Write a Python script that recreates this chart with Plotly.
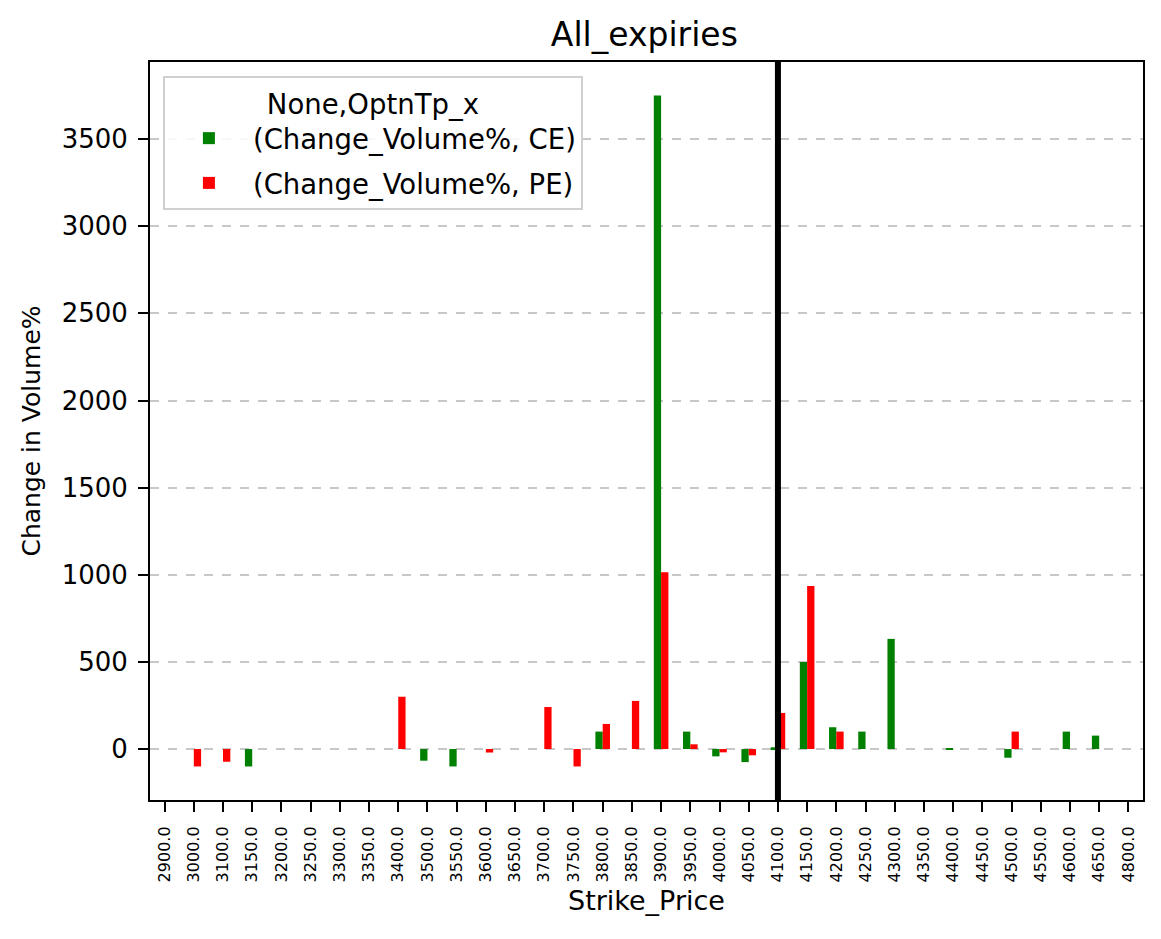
import plotly.graph_objects as go

strikes = ["2900.0", "3000.0", "3100.0", "3150.0", "3200.0", "3250.0", "3300.0", "3350.0",
           "3400.0", "3500.0", "3550.0", "3600.0", "3650.0", "3700.0", "3750.0", "3800.0",
           "3850.0", "3900.0", "3950.0", "4000.0", "4050.0", "4100.0", "4150.0", "4200.0",
           "4250.0", "4300.0", "4350.0", "4400.0", "4450.0", "4500.0", "4550.0", "4600.0",
           "4650.0", "4800.0"]

ce_values = [None, None, None, -100, None, None, None, None,
             None, -67, -100, None, None, None, None, 100,
             None, 3750, 100, -42, -75, 10, 500, 125,
             100, 632, None, 5, None, -50, None, 100,
             77, None]

pe_values = [None, -100, -73, None, None, None, None, None,
             300, None, None, -20, None, 241, -100, 144,
             276, 1015, 27, -19, -36, 207, 936, 100,
             None, None, None, None, None, 100, None, None,
             None, None]

spot_strike = "4100.0"

fig = go.Figure()
fig.add_trace(go.Bar(x=strikes, y=ce_values, name="(Change_Volume%, CE)",
                     legendgroup="ce",
                     marker=dict(color="green", line=dict(width=0))))
fig.add_trace(go.Bar(x=strikes, y=pe_values, name="(Change_Volume%, PE)",
                     legendgroup="pe",
                     marker=dict(color="red", line=dict(width=0))))

xi = strikes.index(spot_strike)
fig.add_shape(type="line", xref="x", yref="paper", x0=xi, x1=xi, y0=0, y1=1,
              line=dict(color="black", width=6))

font_family = "DejaVu Sans"
fig.update_layout(
    width=1161, height=939,
    margin=dict(l=150, r=18, t=62, b=139),
    paper_bgcolor="white", plot_bgcolor="white",
    font=dict(family=font_family, color="black", size=26),
    barmode="group", bargap=0.5, bargroupgap=0,
    title=dict(text="All_expiries", x=0.555, xanchor="center", y=0.963, yanchor="middle",
               font=dict(size=33)),
    showlegend=True,
    legend=dict(x=0.013, y=0.981, xanchor="left", yanchor="top",
                traceorder="grouped",
                title=dict(text="None,OptnTp_x", side="top center", font=dict(size=27.5)),
                bordercolor="#d0d0d0", borderwidth=2, bgcolor="rgba(255,255,255,0.85)",
                font=dict(size=27.5), itemwidth=78, tracegroupgap=6),
    xaxis=dict(type="category", range=[-0.5, 33.5], showgrid=False,
               showline=True, linecolor="black", linewidth=2, mirror=True,
               ticks="outside", ticklen=10, tickwidth=2, tickcolor="black", tickangle=-90,
               tickfont=dict(size=16), ticklabelstandoff=8,
               title=dict(text="Strike_Price", font=dict(size=27), standoff=10)),
    yaxis=dict(range=[-292.5, 3942.5], dtick=500, tick0=0,
               showgrid=True, gridcolor="#c8c8c8", griddash="dash", gridwidth=1.5,
               zeroline=False,
               showline=True, linecolor="black", linewidth=2, mirror=True,
               ticks="outside", ticklen=10, tickwidth=2, tickcolor="black",
               tickfont=dict(size=26), ticklabelstandoff=5,
               title=dict(text="Change in Volume%", font=dict(size=25), standoff=14)),
)

fig.write_html("out.html")
